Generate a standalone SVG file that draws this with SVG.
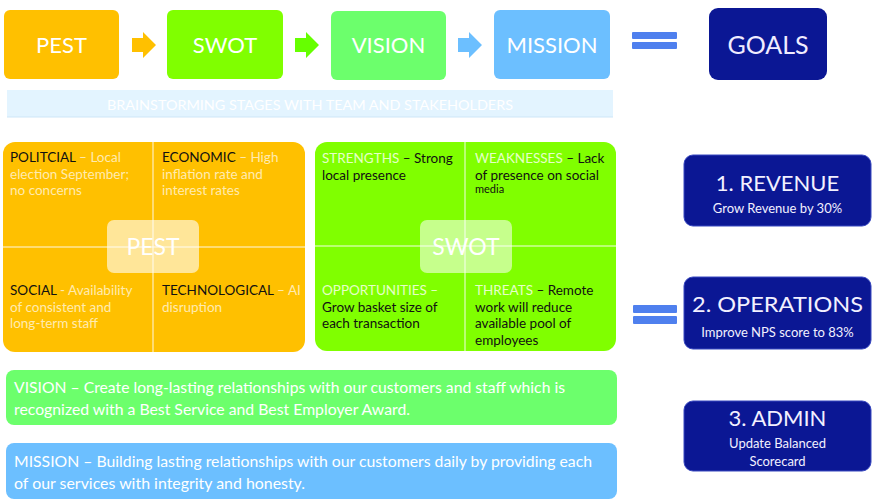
<svg xmlns="http://www.w3.org/2000/svg" width="889" height="503" viewBox="0 0 889 503">
<style>
  text { font-family: Lato, "Open Sans", "Liberation Sans", sans-serif; }
  .top { fill: #FFFFFF; font-size: 22px; text-anchor: middle; }
  .q { font-size: 13.5px; }
  .pd { fill: #FFEBB0; }
  .blk { fill: #111111; }
  .sl { fill: #E6FFC8; }
  .ctr { fill: #FFFFFF; font-size: 23px; text-anchor: middle; }
  .goal { fill: #0B1794; stroke: #3848C0; stroke-width: 1; }
  .gt { fill: #F2F0FF; font-size: 22px; text-anchor: middle; }
  .gs { fill: #F2F0FF; font-size: 13px; text-anchor: middle; }
  .strip { fill: #FFFFFF; font-size: 15px; }
  .eq { fill: #4F80EE; }
  .div { stroke: #FFFFFF; stroke-opacity: 0.6; stroke-width: 1.5; }
</style>

<g id="pest-top"><rect x="4" y="10" width="115" height="69" rx="6" fill="#FFC000"/><text class="top" x="61.5" y="52.5">PEST</text></g>
<g id="swot-top"><rect x="167" y="10" width="116" height="69" rx="6" fill="#80FF00"/><text class="top" x="225" y="52.5">SWOT</text></g>
<g id="vision-top"><rect x="331" y="11" width="115" height="69" rx="6" fill="#6CFF6C"/><text class="top" x="388.5" y="53">VISION</text></g>
<g id="mission-top"><rect x="494" y="10" width="116" height="69" rx="6" fill="#6CBFFF"/><text class="top" x="552" y="52.5">MISSION</text></g>
<g id="goals-top"><rect x="709" y="8" width="118" height="72" rx="9" fill="#0B1794"/><text class="top" x="768" y="54" style="font-size:25px;fill:#F0ECFF">GOALS</text></g>

<g id="connectors">
  <polygon points="132,38 143,38 143,32 156,45 143,58 143,52 132,52" fill="#FFC000"/>
  <polygon points="295,38 306,38 306,32 319,45 306,58 306,52 295,52" fill="#66FF00"/>
  <polygon points="458,38 469,38 469,32 482,45 469,58 469,52 458,52" fill="#6CBFFF"/>
  <rect class="eq" x="632" y="32" width="45" height="7" rx="1"/>
  <rect class="eq" x="632" y="42" width="45" height="7" rx="1"/>
  <rect class="eq" x="633" y="305" width="44" height="8" rx="1"/>
  <rect class="eq" x="633" y="316" width="44" height="8" rx="1"/>
</g>

<g id="banner">
  <rect x="7" y="90" width="606" height="27" fill="#E3F4FF"/>
  <line x1="7" y1="117" x2="613" y2="117" stroke="#CDE6F7" stroke-width="1"/>
  <text x="310" y="110" text-anchor="middle" fill="#FFFFFF" font-size="14" textLength="406" lengthAdjust="spacingAndGlyphs">BRAINSTORMING STAGES WITH TEAM AND STAKEHOLDERS</text>
</g>

<g id="pest-grid">
  <rect x="3" y="142" width="302" height="210" rx="12" fill="#FFC000"/>
  <line class="div" x1="153" y1="142" x2="153" y2="352"/>
  <line class="div" x1="3" y1="247" x2="305" y2="247"/>
  <text class="q" x="10" y="162"><tspan class="blk">POLITCIAL</tspan><tspan class="pd"> – Local</tspan></text>
  <text class="q pd" x="10" y="178.5">election September;</text>
  <text class="q pd" x="10" y="195">no concerns</text>
  <text class="q" x="162" y="162"><tspan class="blk">ECONOMIC</tspan><tspan class="pd"> – High</tspan></text>
  <text class="q pd" x="162" y="178.5">inflation rate and</text>
  <text class="q pd" x="162" y="195">interest rates</text>
  <text class="q" x="10" y="295"><tspan class="blk">SOCIAL</tspan><tspan class="pd"> - Availability</tspan></text>
  <text class="q pd" x="10" y="311.5">of consistent and</text>
  <text class="q pd" x="10" y="328">long-term staff</text>
  <text class="q" x="162" y="295"><tspan class="blk">TECHNOLOGICAL</tspan><tspan class="pd"> – AI</tspan></text>
  <text class="q pd" x="162" y="311.5">disruption</text>
  <rect x="107" y="220" width="92" height="53" rx="7" fill="#FFFFFF" fill-opacity="0.6"/>
  <text class="ctr" x="153" y="255">PEST</text>
</g>

<g id="swot-grid">
  <rect x="315" y="142" width="301" height="209" rx="12" fill="#80FF00"/>
  <line class="div" x1="465" y1="142" x2="465" y2="351"/>
  <line class="div" x1="315" y1="246" x2="616" y2="246"/>
  <text class="q" x="322" y="163"><tspan class="sl">STRENGTHS</tspan><tspan class="blk"> – Strong</tspan></text>
  <text class="q blk" x="322" y="179.5">local presence</text>
  <text class="q" x="475" y="163"><tspan class="sl">WEAKNESSES</tspan><tspan class="blk"> – Lack</tspan></text>
  <text class="q blk" x="475" y="179.5">of presence on social</text>
  <text class="blk" x="475" y="193" font-size="11">media</text>
  <text class="q sl" x="322" y="295">OPPORTUNITIES –</text>
  <text class="q blk" x="322" y="311.5">Grow basket size of</text>
  <text class="q blk" x="322" y="328">each transaction</text>
  <text class="q" x="475" y="295"><tspan class="sl">THREATS</tspan><tspan class="blk"> – Remote</tspan></text>
  <text class="q blk" x="475" y="311.5">work will reduce</text>
  <text class="q blk" x="475" y="328">available pool of</text>
  <text class="q blk" x="475" y="344.5">employees</text>
  <rect x="420" y="220" width="92" height="53" rx="7" fill="#FFFFFF" fill-opacity="0.55"/>
  <text class="ctr" x="466" y="255">SWOT</text>
</g>

<g id="vision-strip">
  <rect x="6" y="370" width="611" height="55" rx="8" fill="#6CFF6C"/>
  <text class="strip" x="14" y="393" textLength="551" lengthAdjust="spacingAndGlyphs">VISION – Create long-lasting relationships with our customers and staff which is</text>
  <text class="strip" x="14" y="415" textLength="396" lengthAdjust="spacingAndGlyphs">recognized with a Best Service and Best Employer Award.</text>
</g>

<g id="mission-strip">
  <rect x="6" y="443" width="611" height="56" rx="8" fill="#6CBFFF"/>
  <text class="strip" x="14" y="467" textLength="578" lengthAdjust="spacingAndGlyphs">MISSION – Building lasting relationships with our customers daily by providing each</text>
  <text class="strip" x="14" y="489" textLength="291" lengthAdjust="spacingAndGlyphs">of our services with integrity and honesty.</text>
</g>

<g id="goal-revenue">
  <rect class="goal" x="684" y="155" width="187" height="71" rx="9"/>
  <text class="gt" x="777.5" y="190.5">1. REVENUE</text>
  <text class="gs" x="777.5" y="213">Grow Revenue by 30%</text>
</g>
<g id="goal-operations">
  <rect class="goal" x="684" y="277" width="187" height="72" rx="9"/>
  <text class="gt" x="777.5" y="312" textLength="171" lengthAdjust="spacingAndGlyphs">2. OPERATIONS</text>
  <text class="gs" x="777.5" y="336.5">Improve NPS score to 83%</text>
</g>
<g id="goal-admin">
  <rect class="goal" x="684" y="401" width="187" height="70" rx="9"/>
  <text class="gt" x="777.5" y="426">3. ADMIN</text>
  <text class="gs" x="777.5" y="448">Update Balanced</text>
  <text class="gs" x="777.5" y="466">Scorecard</text>
</g>
</svg>
